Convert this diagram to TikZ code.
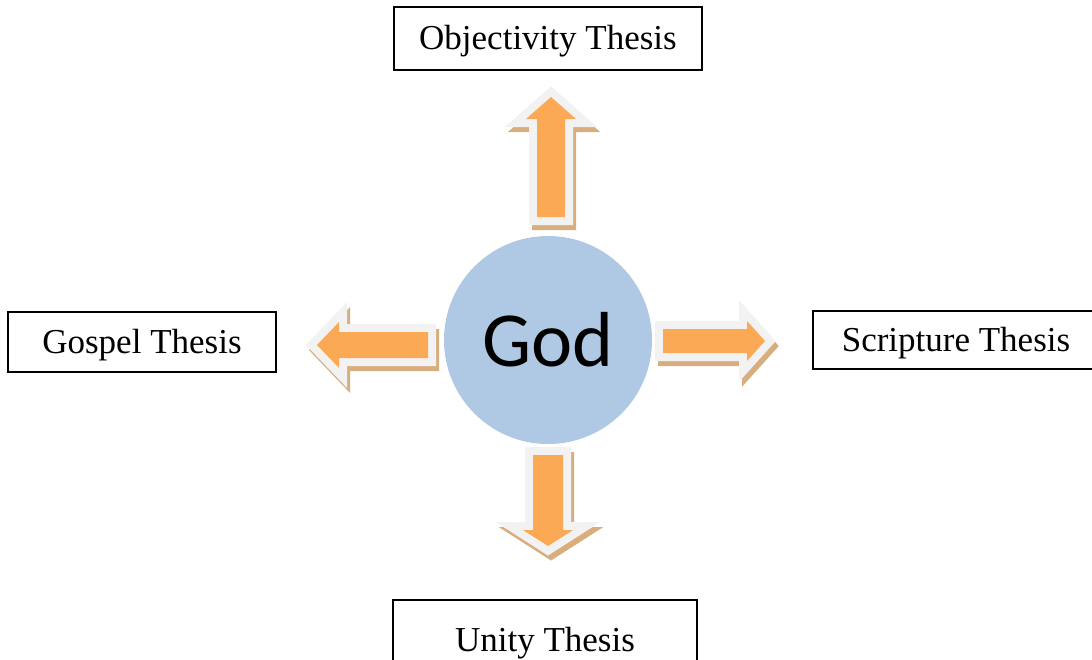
\documentclass[tikz,border=0pt]{standalone}
\usepackage{fontspec}
\setmainfont{Liberation Serif}
\newfontfamily\godfont{Carlito}
\usepackage{xcolor}
\usepackage{tikz}
\usetikzlibrary{positioning}
\definecolor{Core}{HTML}{FBA955}
\definecolor{Shade}{HTML}{D8AE7E}
\definecolor{Rim}{HTML}{F2F2F2}
\definecolor{Globe}{HTML}{AFC9E4}

\tikzset{
  thesis/.style={draw=black,line width=1.8pt,fill=white,inner sep=0pt,text height=24pt,text depth=2pt,font=\fontsize{35}{40}\selectfont},
  rimpart/.style={draw=Rim,fill=Rim,line width=16pt},
  shadowpart/.style={draw=Shade,fill=Shade,line width=16pt},
}

\begin{document}
\begin{tikzpicture}[x=1pt,y=-1pt]
\useasboundingbox (0,0) rectangle (1092,659);
\clip (0,0) rectangle (1092,659);
\node[circle,fill=Globe,minimum size=208pt,inner sep=0pt,font=\godfont\fontsize{78}{80}\selectfont] (god) at (548,340) {God};
\foreach \px/\py/\ang/\len/\bw/\hw/\hl in {551/217/90/120/14/25/22,428/345/180/111/13/23/22,663/341/0/102/12/20/18,548/455/-90/91/15/25/16}{
  \foreach \dx/\dy/\sty in {3/5/shadowpart,0/0/rimpart}{
    \draw[\sty,shift={(\px+\dx,\py+\dy)},rotate=\ang] (0,-\bw) -- (\len-\hl,-\bw) -- (\len-\hl,-\hw) -- (\len,0) -- (\len-\hl,\hw) -- (\len-\hl,\bw) -- (0,\bw) -- cycle;
  }
  \fill[Core,shift={(\px,\py)},rotate=\ang] (0,-\bw) -- (\len-\hl,-\bw) -- (\len-\hl,-\hw) -- (\len,0) -- (\len-\hl,\hw) -- (\len-\hl,\bw) -- (0,\bw) -- cycle;
}
\node[thesis,minimum width=308pt,minimum height=63pt] (obj) at (548,38.5) {Objectivity Thesis};
\node[thesis,minimum width=268pt,minimum height=60pt] (gospel) at (142,342) {Gospel Thesis};
\node[thesis,minimum width=286pt,minimum height=58pt] (scripture) at (956,340) {Scripture Thesis};
\node[thesis,minimum width=304pt,minimum height=80pt] (unity) at (545,640) {Unity Thesis};
\end{tikzpicture}
\end{document}
